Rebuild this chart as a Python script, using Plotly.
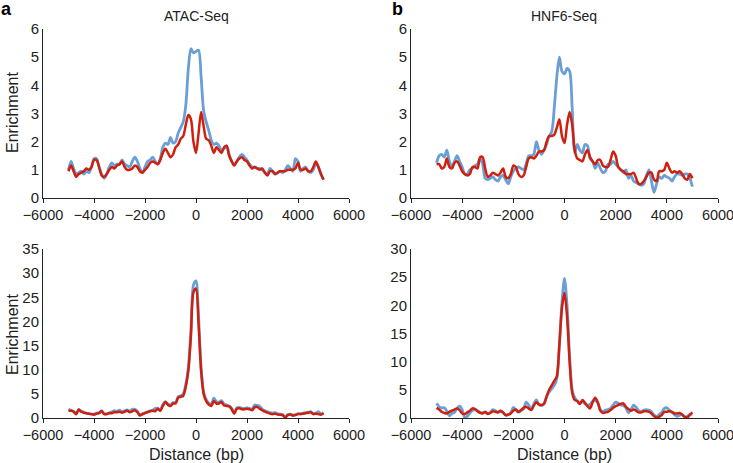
import plotly.graph_objects as go

distance = list(range(-5000, 5001, 100))

atac_top_blue = [
    1.0, 1.3, 1.05, 0.85, 0.9, 0.95, 0.85, 0.95, 0.9, 1.1,
    1.4, 1.4, 1.1, 0.85, 0.7, 0.85, 1.1, 1.25, 1.15, 1.2,
    1.2, 1.35, 1.2, 1.15, 1.1, 1.3, 1.45, 1.3, 1.05, 0.9,
    1.1, 1.3, 1.35, 1.45, 1.3, 1.2, 1.4, 1.8, 1.95, 1.9,
    2.15, 1.95, 2.0, 2.3, 2.5, 2.7, 3.3, 4.6, 5.3, 5.15,
    5.2, 5.25, 4.3, 3.1, 2.7, 2.4, 2.05, 1.9, 1.95, 1.85,
    1.7, 1.75, 1.85, 1.55, 1.3, 1.2, 1.3, 1.45, 1.55, 1.45,
    1.35, 1.2, 1.1, 1.1, 1.05, 1.05, 1.0, 0.9, 0.85, 1.05,
    0.95, 0.85, 0.9, 0.95, 0.9, 1.0, 1.15, 1.05, 0.95, 1.4,
    1.3, 0.95, 1.05, 1.1, 0.95, 0.9, 1.0, 1.25, 1.1, 0.85,
    0.65]

atac_top_red = [
    0.95, 1.15, 0.95, 0.75, 0.85, 0.9, 0.95, 1.05, 1.0, 1.1,
    1.35, 1.35, 1.1, 0.8, 0.75, 0.85, 1.0, 1.1, 1.05, 1.15,
    1.2, 1.3, 1.1, 1.0, 1.0, 1.05, 1.15, 1.1, 0.95, 0.9,
    1.0, 1.1, 1.25, 1.3, 1.25, 1.2, 1.35, 1.6, 1.75, 1.6,
    1.45, 1.55, 1.8, 1.9, 2.1, 2.2, 2.6, 2.95, 2.8, 2.0,
    1.6, 2.3, 3.05, 2.55, 2.1, 2.05, 1.85, 1.6, 1.8, 1.7,
    1.6, 1.8, 1.85, 1.5, 1.3, 1.15, 1.3, 1.4, 1.45, 1.35,
    1.3, 1.15, 1.05, 1.1, 1.05, 1.0, 1.05, 0.9, 0.8, 0.95,
    0.95, 0.85, 0.9, 0.95, 0.95, 0.95, 1.0, 1.0, 1.0, 1.05,
    1.25, 1.0, 1.0, 1.05, 0.95, 0.95, 1.1, 1.3, 1.1, 0.85,
    0.65]

hnf6_top_blue = [
    1.25, 1.5, 1.55, 1.45, 1.7, 1.3, 1.1, 1.3, 1.5, 1.3,
    1.1, 0.85, 0.85, 1.0, 1.05, 1.15, 1.2, 1.4, 1.2, 0.7,
    0.65, 0.7, 0.75, 0.65, 0.6, 0.75, 0.8, 0.65, 0.5, 0.75,
    0.95, 1.05, 1.1, 1.05, 1.0, 1.2, 1.5, 1.5, 1.55, 2.0,
    1.7, 1.55, 1.7, 1.9, 2.2, 2.35, 3.2, 4.3, 5.0, 4.5,
    4.4, 4.6, 4.5, 3.2, 1.6, 1.9, 1.7, 1.6, 1.9, 1.85,
    1.4, 1.3, 1.05, 1.25, 1.05, 0.9, 0.95, 1.2, 1.2, 1.3,
    1.2, 1.1, 1.0, 0.9, 1.0, 0.7, 0.8, 0.6, 0.55, 0.5,
    0.45, 0.5, 0.8, 1.0, 0.6, 0.2, 0.5, 0.75, 0.7, 0.8,
    0.75, 0.7, 0.6, 0.75, 0.85, 0.85, 0.8, 0.85, 0.85, 0.7,
    0.4]

hnf6_top_red = [
    1.2, 1.2, 1.05, 1.1, 1.4, 1.1, 1.05, 1.25, 1.3, 1.15,
    0.95, 0.85, 0.8, 0.85, 1.1, 1.1, 1.05, 1.45, 1.45, 1.05,
    0.75, 0.8, 0.9, 0.85, 0.8, 0.9, 1.05, 0.75, 0.7, 0.85,
    1.15, 1.1, 0.85, 0.75, 0.8, 1.1, 1.4, 1.45, 1.4, 1.5,
    1.65, 1.65, 1.7, 2.0, 2.2, 2.2, 2.25, 2.5, 2.8, 2.2,
    1.95, 2.6, 3.05, 2.6, 1.7, 1.4, 1.35, 1.3, 1.55, 1.7,
    1.45, 1.3, 1.2, 1.35, 1.35, 1.15, 1.1, 1.1, 1.35, 1.65,
    1.5, 1.1, 1.0, 0.95, 0.85, 0.85, 0.85, 0.9, 0.7, 0.5,
    0.5, 0.6, 0.75, 0.9, 0.9, 0.65, 0.6, 0.95, 0.95, 1.0,
    1.25, 1.05, 0.9, 0.95, 0.9, 0.95, 0.85, 0.7, 0.65, 0.85,
    0.7]

atac_bot_blue = [
    1.8, 1.6, 1.4, 0.9, 1.8, 1.4, 1.2, 1.0, 0.9, 0.8,
    0.8, 1.0, 1.1, 1.5, 0.9, 0.9, 1.1, 1.3, 1.5, 1.4,
    1.6, 1.3, 1.5, 1.7, 1.4, 1.8, 1.8, 1.4, 0.6, 0.9,
    1.1, 1.3, 1.5, 1.6, 2.0, 2.0, 1.7, 2.8, 3.4, 2.9,
    2.7, 3.2, 3.2, 4.4, 4.6, 5.0, 7.0, 10.5, 18.0, 27.5,
    28.4, 21.0, 10.5, 5.3, 3.8, 3.1, 2.8, 4.1, 3.4, 3.3,
    3.6, 2.9, 2.7, 2.5, 2.0, 1.1, 2.1, 2.2, 2.0, 2.0,
    2.1, 2.0, 1.8, 2.7, 2.6, 2.4, 1.8, 1.5, 1.3, 1.1,
    1.0, 1.1, 0.9, 0.8, 0.7, 0.2, 0.7, 0.8, 0.6, 0.7,
    0.9, 0.9, 1.0, 1.1, 1.2, 1.3, 0.9, 1.0, 1.3, 0.8,
    1.1]

atac_bot_red = [
    1.5, 1.5, 1.3, 0.8, 1.7, 1.3, 1.1, 1.0, 0.9, 0.8,
    0.7, 0.9, 1.0, 1.4, 0.8, 0.8, 1.0, 1.0, 1.2, 1.2,
    1.3, 1.1, 1.3, 1.5, 1.2, 1.4, 1.6, 1.2, 0.5, 0.8,
    1.0, 1.2, 1.4, 1.5, 1.4, 1.9, 1.5, 2.5, 3.3, 2.7,
    2.5, 3.0, 3.0, 4.2, 4.4, 4.6, 6.5, 9.8, 17.0, 26.0,
    26.8, 19.5, 9.8, 5.0, 3.5, 2.8, 2.5, 3.5, 3.0, 3.0,
    3.3, 2.6, 2.5, 2.4, 1.8, 0.9, 1.9, 2.0, 1.8, 1.8,
    1.9, 1.8, 1.6, 2.2, 2.3, 1.9, 1.6, 1.3, 1.1, 0.9,
    0.8, 0.9, 0.7, 0.7, 0.6, 0.1, 0.6, 0.7, 0.5, 0.6,
    0.8, 0.8, 0.9, 1.0, 1.1, 1.2, 0.8, 0.9, 0.8, 0.7,
    1.0]

hnf6_bot_blue = [
    2.6, 2.0, 1.8, 1.8, 1.2, 0.4, 0.8, 1.0, 1.7, 2.1,
    1.5, 0.1, 0.3, 0.9, 1.3, 1.5, 1.3, 1.0, 0.9, 1.0,
    0.8, 1.0, 1.5, 1.3, 1.0, 1.2, 0.9, 0.5, 0.6, 0.9,
    1.9, 1.4, 1.0, 1.3, 1.6, 2.8, 2.3, 1.5, 2.5, 3.2,
    2.4, 2.2, 2.6, 3.8, 4.6, 5.2, 5.8, 7.0, 13.0, 20.5,
    24.8, 20.0, 11.0, 5.0, 3.6, 3.0, 2.6, 2.9, 2.5, 2.3,
    2.4, 3.0, 3.1, 2.7, 1.5, 1.1, 1.4, 1.5, 1.7, 2.3,
    2.8, 2.6, 2.3, 2.2, 1.8, 0.9, 1.5, 2.3, 1.9, 1.3,
    1.1, 1.4, 1.5, 1.4, 1.1, 0.5, 0.3, 0.6, 1.0, 1.7,
    1.8, 1.4, 1.0, 0.6, 0.3, 0.5, 0.6, 0.2, 0.3, 0.6,
    0.7]

hnf6_bot_red = [
    1.8, 1.5, 1.1, 0.9, 0.8, 1.1, 1.3, 1.5, 1.7, 1.4,
    0.8, 0.7, 1.0, 1.3, 1.7, 1.6, 1.2, 0.9, 0.8, 1.1,
    0.7, 0.9, 1.2, 1.1, 1.0, 1.3, 1.0, 0.5, 0.6, 0.8,
    1.3, 1.5, 1.1, 1.4, 1.8, 2.0, 1.7, 1.4, 2.2, 2.8,
    2.4, 2.3, 2.5, 3.8, 5.0, 5.8, 6.6, 7.4, 13.0, 19.5,
    22.2, 18.0, 10.0, 4.5, 3.2, 3.0, 2.5, 3.2, 2.7, 2.1,
    1.7, 2.8, 3.6, 2.8, 1.3, 0.9, 1.0, 1.1, 1.4, 1.8,
    2.1, 2.3, 2.5, 2.6, 2.0, 1.6, 1.3, 1.5, 1.3, 1.0,
    1.0, 1.2, 1.2, 1.1, 0.8, 0.3, 0.1, 0.2, 0.5, 1.1,
    1.1, 1.2, 1.1, 0.8, 0.8, 0.9, 0.6, 0.2, 0.1, 0.6,
    1.0]

x_ticks = [-6000, -4000, -2000, 0, 2000, 4000, 6000]
x_tick_labels = ["\u22126000", "\u22124000", "\u22122000", "0", "2000", "4000", "6000"]
panel_titles = ["ATAC-Seq", "HNF6-Seq"]
panel_letters = ["a", "b"]
y_label = "Enrichment"
x_label = "Distance (bp)"

BLUE = "#6a9fd6"
RED = "#d01f0c"
FONT = "Liberation Sans, Arial, sans-serif"

panels = [
    ("x", "y", atac_top_blue, atac_top_red),
    ("x2", "y2", hnf6_top_blue, hnf6_top_red),
    ("x3", "y3", atac_bot_blue, atac_bot_red),
    ("x4", "y4", hnf6_bot_blue, hnf6_bot_red),
]

fig = go.Figure()
for xa, ya, blue, red in panels:
    fig.add_trace(go.Scatter(x=distance, y=blue, xaxis=xa, yaxis=ya, mode="lines",
                             line=dict(color=BLUE, width=2.8, shape="spline", smoothing=0.8),
                             showlegend=False, hoverinfo="skip"))
    fig.add_trace(go.Scatter(x=distance, y=red, xaxis=xa, yaxis=ya, mode="lines",
                             line=dict(color=RED, width=2.5, shape="spline", smoothing=0.8),
                             showlegend=False, hoverinfo="skip"))

W, H = 733, 463
xdom_left = [43 / W, 349 / W]
xdom_right = [411 / W, 718 / W]
ydom_top = [1 - 198 / H, 1 - 29 / H]
ydom_bot = [1 - 418 / H, 1 - 249 / H]

xcommon = dict(range=[-6000, 6000], tickvals=x_ticks, ticktext=x_tick_labels,
               showgrid=False, zeroline=False, showline=True, linecolor="#222222",
               linewidth=1, ticks="outside", ticklen=4, tickcolor="#222222",
               automargin=False, ticklabeloverflow="allow",
               tickfont=dict(family=FONT, size=14.5, color="#222222"))
ycommon = dict(showgrid=False, zeroline=False, showline=True, linecolor="#222222",
               linewidth=1, ticks="", automargin=False,
               tickfont=dict(family=FONT, size=15, color="#222222"))

fig.update_layout(
    template="none",
    width=W, height=H,
    margin=dict(l=0, r=0, t=0, b=0, autoexpand=False),
    paper_bgcolor="white", plot_bgcolor="white",
    xaxis=dict(domain=xdom_left, anchor="y", **xcommon),
    xaxis2=dict(domain=xdom_right, anchor="y2", **xcommon),
    xaxis3=dict(domain=xdom_left, anchor="y3", **xcommon),
    xaxis4=dict(domain=xdom_right, anchor="y4", **xcommon),
    yaxis=dict(domain=ydom_top, anchor="x", range=[0, 6], dtick=1, **ycommon),
    yaxis2=dict(domain=ydom_top, anchor="x2", range=[0, 6], dtick=1, **ycommon),
    yaxis3=dict(domain=ydom_bot, anchor="x3", range=[0, 35], dtick=5, **ycommon),
    yaxis4=dict(domain=ydom_bot, anchor="x4", range=[0, 30], dtick=5, **ycommon),
)

ann = []
tfont = dict(family=FONT, size=14, color="#222222")
afont = dict(family=FONT, size=16, color="#222222")
ann.append(dict(x=196 / W, y=1 - 16 / H, text=panel_titles[0], showarrow=False,
                xref="paper", yref="paper", font=tfont, xanchor="center", yanchor="middle"))
ann.append(dict(x=564 / W, y=1 - 16 / H, text=panel_titles[1], showarrow=False,
                xref="paper", yref="paper", font=tfont, xanchor="center", yanchor="middle"))
lfont = dict(family=FONT, size=18, color="black")
ann.append(dict(x=0, y=1, yshift=2, borderpad=0, text="<b>" + panel_letters[0] + "</b>",
                showarrow=False, xref="paper", yref="paper", font=lfont,
                xanchor="left", yanchor="top"))
ann.append(dict(x=391 / W, y=1, yshift=2, borderpad=0, text="<b>" + panel_letters[1] + "</b>",
                showarrow=False, xref="paper", yref="paper", font=lfont,
                xanchor="left", yanchor="top"))
for yc in [113, 335]:
    ann.append(dict(x=12 / W, y=1 - yc / H, text=y_label, showarrow=False, textangle=-90,
                    xref="paper", yref="paper", font=afont, xanchor="center", yanchor="middle"))
for xc in [196, 564]:
    ann.append(dict(x=xc / W, y=1 - 454 / H, text=x_label, showarrow=False,
                    xref="paper", yref="paper", font=afont, xanchor="center", yanchor="middle"))
fig.update_layout(annotations=ann)

fig.write_html("out.html", config={"displayModeBar": False},
               post_script="document.body.style.margin='0';document.body.style.padding='0';"
                           "document.documentElement.style.overflow='hidden';")
